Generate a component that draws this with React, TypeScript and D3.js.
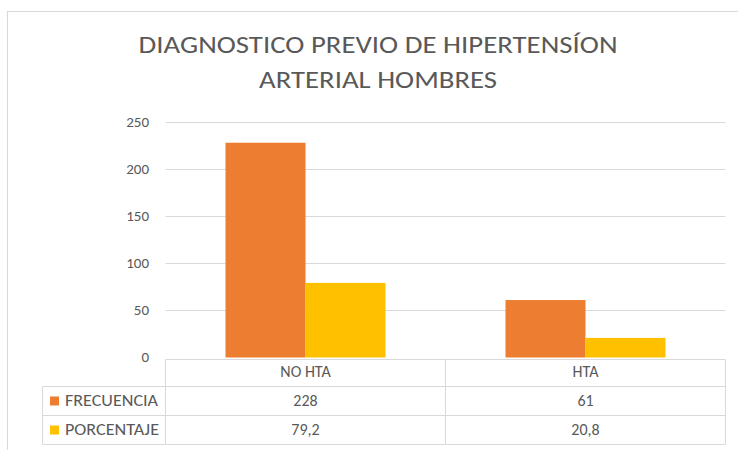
import React from "react";
import * as d3 from "d3";

const categories = ["NO HTA", "HTA"];
const seriesNames = ["FRECUENCIA", "PORCENTAJE"];
const frecuencia = [228, 61];
const porcentaje = [79.2, 20.8];
const tableFrecuencia = ["228", "61"];
const tablePorcentaje = ["79,2", "20,8"];
const yTicks = [0, 50, 100, 150, 200, 250];
const colors = ["#ED7D31", "#FFC000"];
const titleLines = ["DIAGNOSTICO PREVIO DE HIPERTENSÍON", "ARTERIAL HOMBRES"];

const FONT = "Carlito, Calibri, Lato, 'Open Sans', sans-serif";

export default function App() {
  const W = 738, H = 450;
  const plotL = 165.5, plotR = 725.5, plotT = 122, plotB = 357.5;
  const y = d3.scaleLinear().domain([0, 250]).range([plotB, plotT]);
  const x0 = d3.scaleBand().domain(categories).range([plotL, plotR]).paddingInner(0).paddingOuter(0);
  const bw = x0.bandwidth();
  const x1 = d3.scaleBand().domain(seriesNames).range([bw * 0.2143, bw * (1 - 0.2143)]).padding(0);
  const series = [frecuencia, porcentaje];
  const tableRows = [tableFrecuencia, tablePorcentaje];
  const textColor = "#595959";
  const gridColor = "#D9D9D9";
  const tableLeft = 42.5;
  const rowY = [359.5, 386.5, 415.5, 444.5];
  const titleLens = [479, 238];
  const legendLens = [93, 94];

  return (
    <svg width={W} height={H} style={{ position: "absolute", left: 0, top: 0, fontFamily: FONT }}>
      <rect x={0} y={0} width={W} height={H} fill="#fff" />
      <rect x={7.5} y={11.5} width={W + 20} height={H + 20} fill="#fff" stroke={gridColor} strokeWidth={1} />
      {titleLines.map((t, i) => (
        <text
          key={i}
          x={378}
          y={53 + i * 35}
          textAnchor="middle"
          fontSize={25}
          fill={textColor}
          textLength={titleLens[i]}
          lengthAdjust="spacingAndGlyphs"
        >
          {t}
        </text>
      ))}
      {yTicks.map((t) => (
        <g key={t}>
          {t > 0 && (
            <line x1={plotL} x2={plotR} y1={Math.round(y(t)) + 0.5} y2={Math.round(y(t)) + 0.5} stroke={gridColor} strokeWidth={1} />
          )}
          <text x={149} y={y(t) + 4.5} textAnchor="end" fontSize={15} fill={textColor}>
            {t}
          </text>
        </g>
      ))}
      {categories.map((c, ci) => (
        <g key={c} transform={`translate(${x0(c)},0)`}>
          {seriesNames.map((s, si) => (
            <rect
              key={s}
              x={x1(s)}
              y={y(series[si][ci])}
              width={x1.bandwidth()}
              height={plotB - y(series[si][ci])}
              fill={colors[si]}
            />
          ))}
        </g>
      ))}
      {/* data table */}
      <g stroke={gridColor} strokeWidth={1} fill="none">
        <line x1={plotL} x2={plotR} y1={rowY[0]} y2={rowY[0]} />
        {rowY.slice(1).map((ry, i) => (
          <line key={i} x1={tableLeft} x2={plotR} y1={ry} y2={ry} />
        ))}
        <line x1={tableLeft} x2={tableLeft} y1={rowY[1]} y2={rowY[3]} />
        <line x1={plotL} x2={plotL} y1={rowY[0]} y2={rowY[3]} />
        {categories.map((c) => (
          <line key={c} x1={(x0(c) as number) + bw} x2={(x0(c) as number) + bw} y1={rowY[0]} y2={rowY[3]} />
        ))}
      </g>
      {categories.map((c) => (
        <text key={c} x={(x0(c) as number) + bw / 2} y={377} textAnchor="middle" fontSize={16} fill={textColor}>
          {c}
        </text>
      ))}
      {seriesNames.map((s, si) => {
        const cy = (rowY[si + 1] + rowY[si + 2]) / 2;
        return (
          <g key={s}>
            <rect x={50} y={cy - 4.5} width={9} height={9} fill={colors[si]} />
            <text x={65} y={cy + 5} fontSize={16} fill={textColor} textLength={legendLens[si]} lengthAdjust="spacingAndGlyphs">
              {s}
            </text>
            {categories.map((c, ci) => (
              <text key={c} x={(x0(c) as number) + bw / 2} y={cy + 5} textAnchor="middle" fontSize={16} fill={textColor}>
                {tableRows[si][ci]}
              </text>
            ))}
          </g>
        );
      })}
    </svg>
  );
}
